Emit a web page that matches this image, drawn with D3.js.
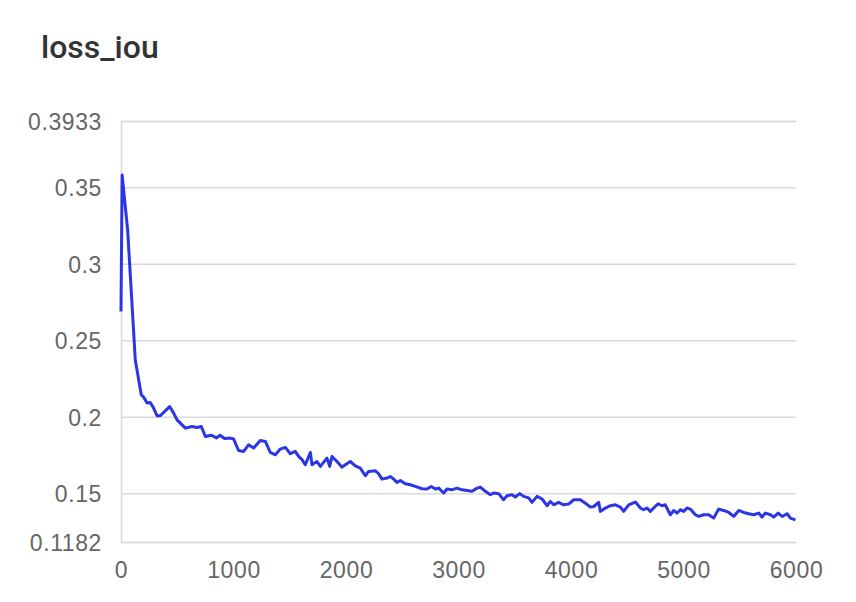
<!DOCTYPE html>
<html>
<head>
<meta charset="utf-8">
<script src="https://cdn.jsdelivr.net/npm/d3@7"></script>
<style>
  body { margin: 0; background: #fff; }
  .axis text { font-family: "Liberation Sans", Arial, sans-serif; font-size: 23px; letter-spacing: 0.6px; fill: #666; }
  .title { font-family: Roboto, "Liberation Sans", sans-serif; font-size: 32px; font-weight: 500; fill: #333; }
</style>
</head>
<body>
<div id="chart"></div>
<script>
const title = 'loss_iou';

// training step of each logged point
const steps = [0, 10, 59, 127, 142, 180, 201, 231, 260, 290, 320, 349, 432, 468, 498, 527, 572, 631, 676, 714,
  750, 800, 850, 880, 920, 972, 1001, 1045, 1090, 1134, 1179, 1238, 1283, 1327, 1372, 1416, 1461, 1505, 1549, 1579,
  1609, 1638, 1683, 1698, 1742, 1772, 1831, 1855, 1876, 1920, 1965, 1994, 2038, 2083, 2127, 2172, 2201, 2261, 2290, 2320,
  2364, 2394, 2424, 2453, 2483, 2527, 2572, 2616, 2676, 2720, 2758, 2794, 2824, 2868, 2898, 2942, 2987, 3031, 3076, 3120,
  3165, 3194, 3239, 3283, 3313, 3357, 3400, 3431, 3476, 3505, 3544, 3579, 3624, 3653, 3698, 3743, 3787, 3817, 3846, 3890,
  3935, 3979, 4024, 4083, 4128, 4172, 4202, 4246, 4261, 4306, 4350, 4394, 4439, 4468, 4513, 4572, 4617, 4646, 4676, 4705,
  4735, 4774, 4809, 4838, 4883, 4913, 4943, 4972, 5002, 5031, 5061, 5105, 5135, 5179, 5224, 5268, 5313, 5357, 5402, 5446,
  5491, 5535, 5580, 5624, 5668, 5698, 5728, 5772, 5802, 5841, 5877, 5921, 5950, 5995];

const lossIou = [0.2688, 0.3580, 0.3221, 0.2372, 0.2307, 0.2144, 0.2129, 0.2090, 0.2094, 0.2057, 0.2007, 0.2007, 0.2067, 0.2024, 0.1980, 0.1959, 0.1926, 0.1937, 0.1930, 0.1937,
  0.1871, 0.1880, 0.1862, 0.1880, 0.1858, 0.1861, 0.1855, 0.1780, 0.1774, 0.1817, 0.1796, 0.1845, 0.1839, 0.1767, 0.1752, 0.1789, 0.1800, 0.1759, 0.1774, 0.1741,
  0.1720, 0.1687, 0.1767, 0.1687, 0.1708, 0.1676, 0.1730, 0.1676, 0.1741, 0.1708, 0.1671, 0.1687, 0.1708, 0.1680, 0.1665, 0.1615, 0.1643, 0.1647, 0.1628, 0.1593,
  0.1600, 0.1610, 0.1593, 0.1571, 0.1584, 0.1563, 0.1556, 0.1545, 0.1530, 0.1528, 0.1545, 0.1528, 0.1534, 0.1502, 0.1528, 0.1523, 0.1534, 0.1523, 0.1519, 0.1513,
  0.1534, 0.1541, 0.1513, 0.1491, 0.1502, 0.1498, 0.1458, 0.1484, 0.1491, 0.1476, 0.1498, 0.1480, 0.1470, 0.1441, 0.1480, 0.1463, 0.1419, 0.1447, 0.1425, 0.1441,
  0.1425, 0.1430, 0.1458, 0.1458, 0.1436, 0.1410, 0.1414, 0.1441, 0.1382, 0.1404, 0.1419, 0.1425, 0.1410, 0.1382, 0.1425, 0.1443, 0.1404, 0.1393, 0.1404, 0.1382,
  0.1404, 0.1432, 0.1419, 0.1425, 0.1360, 0.1388, 0.1371, 0.1393, 0.1382, 0.1404, 0.1397, 0.1360, 0.1349, 0.1360, 0.1360, 0.1338, 0.1397, 0.1388, 0.1375, 0.1349,
  0.1388, 0.1375, 0.1367, 0.1360, 0.1371, 0.1345, 0.1371, 0.1360, 0.1345, 0.1371, 0.1349, 0.1367, 0.1338, 0.1327];

const yTickValues = [0.1182, 0.15, 0.2, 0.25, 0.3, 0.35, 0.3933];
const xTickValues = [0, 1000, 2000, 3000, 4000, 5000, 6000];

const width = 856, height = 602;
const margin = { top: 121, right: 60, bottom: 60, left: 121 };
const innerW = width - margin.left - margin.right;
const innerH = height - margin.top - margin.bottom;

const svg = d3.select('#chart').append('svg')
  .attr('width', width)
  .attr('height', height);

svg.append('text')
  .attr('class', 'title')
  .attr('x', 41)
  .attr('y', 58)
  .text(title);

const chart = svg.append('g')
  .attr('transform', `translate(${margin.left}, ${margin.top})`);

const x = d3.scaleLinear().domain([0, 6000]).range([0, innerW]);
const y = d3.scaleLinear().domain([yTickValues[0], yTickValues[yTickValues.length - 1]]).range([innerH, 0]);

// y axis with gridlines
const yAxis = chart.append('g')
  .attr('class', 'axis axis-y')
  .call(d3.axisLeft(y).tickValues(yTickValues).tickSize(-innerW).tickPadding(19).tickFormat(d => String(d)));
yAxis.select('.domain').attr('stroke', '#dadada').attr('stroke-width', 1.5);
yAxis.selectAll('.tick line').attr('stroke', '#dadada').attr('stroke-width', 1.5);
yAxis.selectAll('.tick text').attr('dy', '0.36em');

// x axis
const xAxis = chart.append('g')
  .attr('class', 'axis axis-x')
  .attr('transform', `translate(0, ${innerH})`)
  .call(d3.axisBottom(x).tickValues(xTickValues).tickSize(0).tickPadding(20).tickFormat(d3.format('d')));
xAxis.select('.domain').remove();
xAxis.selectAll('.tick text').attr('dy', '0.71em');

const line = d3.line()
  .x(d => x(d[0]))
  .y(d => y(d[1]));

chart.append('path')
  .datum(steps.map((s, i) => [s, lossIou[i]]))
  .attr('fill', 'none')
  .attr('stroke', '#2b35e6')
  .attr('stroke-width', 3)
  .attr('stroke-linejoin', 'round')
  .attr('d', line);
</script>
</body>
</html>
